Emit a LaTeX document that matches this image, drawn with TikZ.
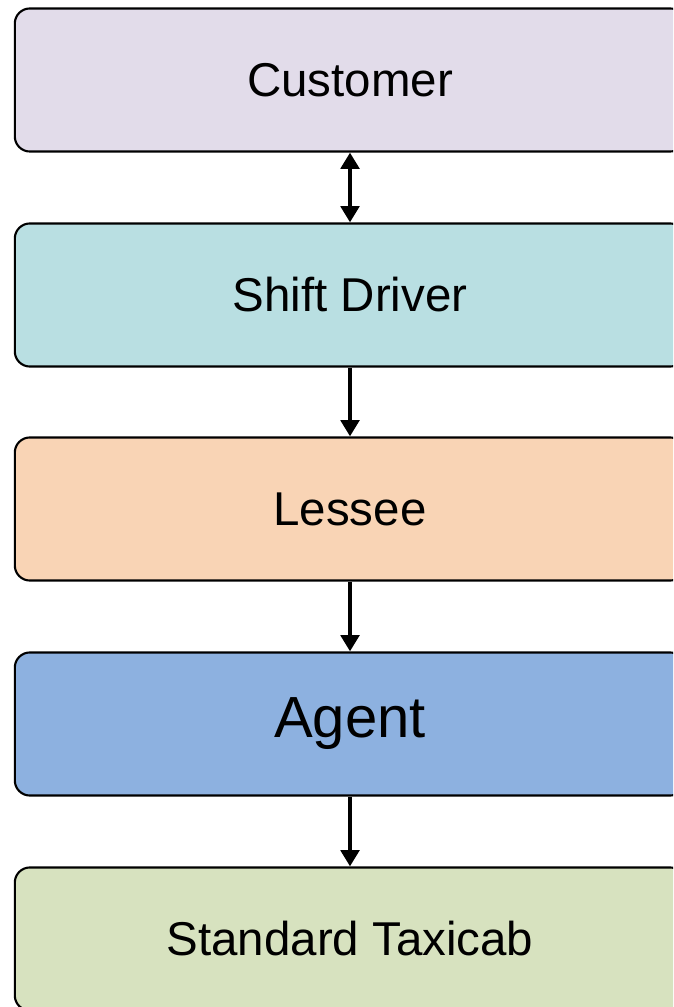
\documentclass[tikz,border=0pt]{standalone}
\usepackage{fontspec}
\setmainfont{Liberation Sans}
\usetikzlibrary{arrows.meta}

\begin{document}
\begin{tikzpicture}
  [x=0.01cm,y=-0.01cm,
   every node/.style={rounded corners=4.3pt,draw,line width=0.6pt,
     minimum width=6.7cm,minimum height=1.43cm,font=\fontsize{13.5}{16}\selectfont},
   link/.style={line width=1.15pt,-{Triangle[length=4.6pt,width=5.2pt]}}]
  \useasboundingbox (0,0) rectangle (673,1007);
  \clip (0,0) rectangle (673,1007);
  \definecolor{custfill}{HTML}{E2DCEA}
  \definecolor{shiftfill}{HTML}{B9DFE2}
  \definecolor{lessfill}{HTML}{F9D4B5}
  \definecolor{agentfill}{HTML}{8DB1E0}
  \definecolor{taxifill}{HTML}{D7E2BF}
  \node[fill=custfill] (cust) at (350,80) {Customer};
  \node[fill=shiftfill] (shift) at (350,295) {Shift Driver};
  \node[fill=lessfill] (less) at (350,509) {Lessee};
  \node[fill=agentfill,font=\fontsize{16.5}{19}\selectfont] (agent) at (350,724) {Agent};
  \node[fill=taxifill] (taxi) at (350,939) {Standard Taxicab};

  \draw[link,{Triangle[length=4.6pt,width=5.2pt]}-{Triangle[length=4.6pt,width=5.2pt]}] (cust) to (shift);
  \draw[link] (shift) to (less);
  \draw[link] (less) to (agent);
  \draw[link] (agent) to (taxi);
\end{tikzpicture}
\end{document}
